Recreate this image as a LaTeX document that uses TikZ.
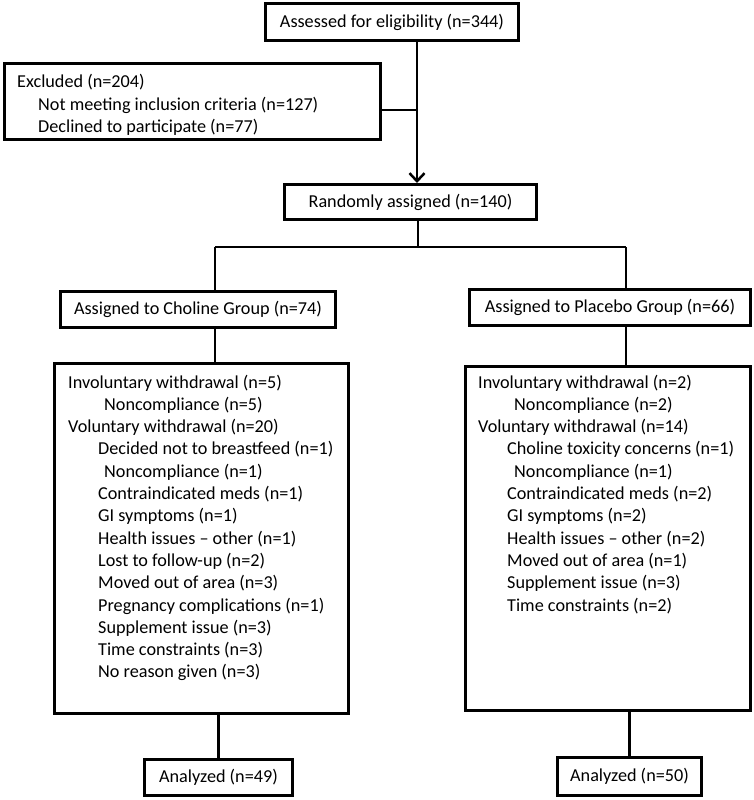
\documentclass[tikz,border=0pt]{standalone}
\usepackage{fontspec}
\setmainfont{Carlito}
\usetikzlibrary{arrows.meta}

\begin{document}
\begin{tikzpicture}[x=1pt,y=-1pt]
        \tikzstyle{every node}=[font=\fontsize{18.2}{22}\selectfont]
        \tikzstyle{box}=[draw,line width=3pt,inner sep=0pt]
        \tikzstyle{item}=[anchor=base west,inner sep=0pt]
        \tikzstyle{link}=[line width=2.5pt]

        \useasboundingbox (0,0) rectangle (754,800);

        % top part
        \node [box,minimum width=253pt,minimum height=37pt] (assess) at (392,22) {Assessed for eligibility (n=344)};
        \node [box,minimum width=376pt,minimum height=76pt] (excl) at (192.5,101.5) {};
        \foreach \dx/\txt [count=\i] in {0/Excluded (n=204), 21/Not meeting inclusion criteria (n=127), 21/Declined to participate (n=77)} {
            \node [item] (x\i) at ({17+\dx},{88+22.4*(\i-1)}) {\txt};
        };
        \node [box,minimum width=252pt,minimum height=35pt] (rand) at (410.5,202) {Randomly assigned (n=140)};

        % the two arms
        \node [box,minimum width=275pt,minimum height=36pt] (choline) at (198,309.5) {Assigned to Choline Group (n=74)};
        \node [box,minimum width=281pt,minimum height=36pt] (placebo) at (610,307.5) {Assigned to Placebo Group (n=66)};

        \node [box,minimum width=294pt,minimum height=350pt] (listL) at (201.5,538.5) {};
        \node [box,minimum width=285pt,minimum height=344pt] (listR) at (608,538.5) {};

        \foreach \dx/\txt [count=\i] in {0/Involuntary withdrawal (n=5), 36/Noncompliance (n=5),
                0/Voluntary withdrawal (n=20), 30/Decided not to breastfeed (n=1), 36/Noncompliance (n=1),
                30/Contraindicated meds (n=1), 30/GI symptoms (n=1), 30/Health issues – other (n=1),
                30/Lost to follow-up (n=2), 30/Moved out of area (n=3), 30/Pregnancy complications (n=1),
                30/Supplement issue (n=3), 30/Time constraints (n=3), 30/No reason given (n=3)} {
            \node [item] (l\i) at ({68+\dx},{388+22.3*(\i-1)}) {\txt};
        };
        \foreach \dx/\txt [count=\i] in {0/Involuntary withdrawal (n=2), 36/Noncompliance (n=2),
                0/Voluntary withdrawal (n=14), 29/Choline toxicity concerns (n=1), 36/Noncompliance (n=1),
                29/Contraindicated meds (n=2), 29/GI symptoms (n=2), 29/Health issues – other (n=2),
                29/Moved out of area (n=1), 29/Supplement issue (n=3), 29/Time constraints (n=2)} {
            \node [item] (r\i) at ({478+\dx},{388+22.3*(\i-1)}) {\txt};
        };

        \node [box,minimum width=148pt,minimum height=36pt] (anaL) at (218.5,777.5) {Analyzed (n=49)};
        \node [box,minimum width=144pt,minimum height=38pt] (anaR) at (629.5,776.5) {Analyzed (n=50)};

        % connectors
        \coordinate (split) at (417,110);
        \coordinate (fork) at (418,247);
        \coordinate (lbr) at (215,247);
        \coordinate (rbr) at (626,247);

        \draw [link] (assess.south -| split) -- (split);                                  % assess->split
        \draw [link] (excl.east |- split) -- (split);                                      % excl->split
        \draw [link,-{Straight Barb[length=8pt,width=15pt]}] (split) -- (rand.north -| split); % split->rand
        \draw [link] (rand.south -| fork) -- (fork);                                       % rand->fork
        \draw [link] (lbr) -- (rbr);                                                       % bar
        \draw [link] (lbr) -- (choline.north -| lbr);                                      % bar->choline
        \draw [link] (rbr) -- (placebo.north -| rbr);                                      % bar->placebo
        \draw [link] (choline.south -| lbr) -- (listL.north -| lbr);                       % choline->listL
        \draw [link] (placebo.south -| rbr) -- (listR.north -| rbr);                       % placebo->listR
        \draw [link] (listL.south -| anaL) -- (anaL.north);                                % listL->anaL
        \draw [link] (listR.south -| anaR) -- (anaR.north);                                % listR->anaR

\end{tikzpicture}
\end{document}
